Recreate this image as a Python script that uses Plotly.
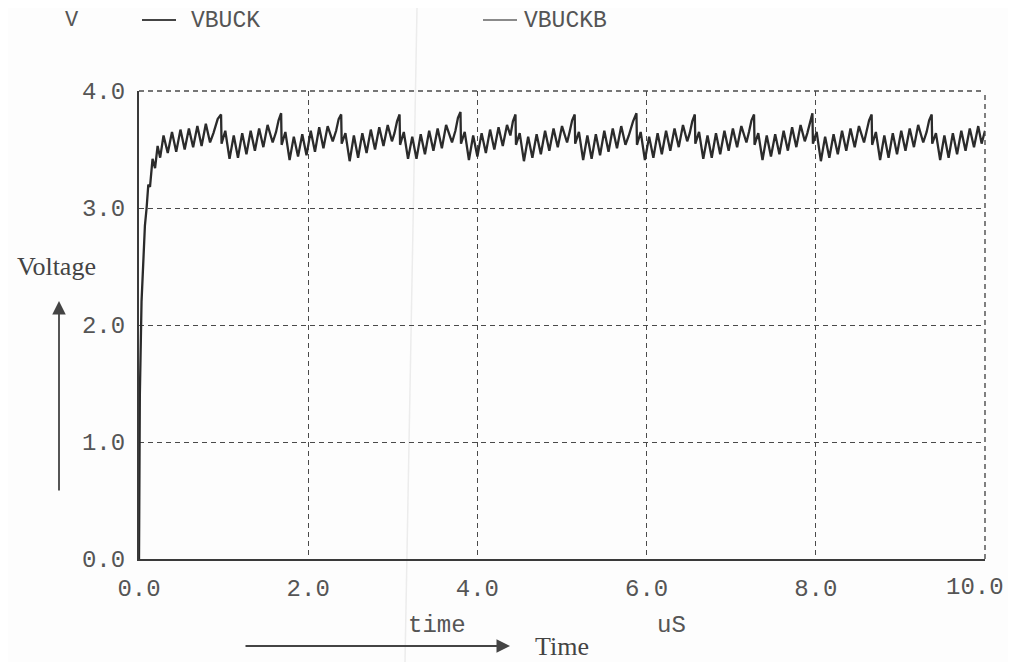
import plotly.graph_objects as go

# ---------------- data ----------------
series_names = ["VBUCK", "VBUCKB"]
y_unit_label = "V"
x_tick_vals = [0, 2, 4, 6, 8, 10]
x_tick_text = ["0.0", "2.0", "4.0", "6.0", "8.0", "10.0"]
y_tick_vals = [0, 1, 2, 3, 4]
y_tick_text = ["0.0", "1.0", "2.0", "3.0", "4.0"]

# time in microseconds
t_us = [
    0.00, 0.01, 0.03, 0.05, 0.07, 0.09, 0.11, 0.13, 0.16, 0.19, 0.22, 0.25, 0.29, 0.34,
    0.39, 0.44, 0.49, 0.54, 0.59, 0.64, 0.69, 0.74, 0.79, 0.84, 0.88, 0.93, 0.97,
    0.976, 1.02, 1.07, 1.12, 1.17, 1.22, 1.27, 1.32, 1.37, 1.42, 1.47, 1.52, 1.58, 1.62, 1.65, 1.68,
    1.686, 1.73, 1.78, 1.83, 1.88, 1.93, 1.98, 2.03, 2.08, 2.13, 2.18, 2.23, 2.29, 2.33, 2.36, 2.39,
    2.396, 2.44, 2.49, 2.54, 2.59, 2.64, 2.69, 2.74, 2.79, 2.84, 2.89, 2.94, 2.99, 3.02, 3.05, 3.08,
    3.086, 3.13, 3.18, 3.23, 3.28, 3.33, 3.38, 3.43, 3.48, 3.53, 3.58, 3.63, 3.70, 3.74, 3.77, 3.80,
    3.806, 3.85, 3.90, 3.95, 4.00, 4.05, 4.10, 4.15, 4.20, 4.25, 4.30, 4.35, 4.39, 4.42, 4.45,
    4.456, 4.50, 4.55, 4.60, 4.65, 4.70, 4.75, 4.80, 4.85, 4.90, 4.95, 5.00, 5.06, 5.09, 5.12, 5.15,
    5.156, 5.20, 5.25, 5.30, 5.35, 5.40, 5.45, 5.50, 5.55, 5.60, 5.65, 5.70, 5.75, 5.79, 5.84, 5.88,
    5.886, 5.93, 5.98, 6.03, 6.08, 6.13, 6.18, 6.23, 6.28, 6.33, 6.38, 6.43, 6.48, 6.51, 6.54, 6.57,
    6.576, 6.62, 6.67, 6.72, 6.77, 6.82, 6.87, 6.92, 6.97, 7.02, 7.07, 7.12, 7.18, 7.21, 7.24, 7.27,
    7.276, 7.32, 7.37, 7.42, 7.47, 7.52, 7.57, 7.62, 7.67, 7.72, 7.77, 7.82, 7.87, 7.90, 7.93, 7.96,
    7.966, 8.01, 8.06, 8.11, 8.16, 8.21, 8.26, 8.31, 8.36, 8.41, 8.46, 8.51, 8.57, 8.60, 8.63, 8.66,
    8.666, 8.71, 8.76, 8.81, 8.86, 8.91, 8.96, 9.01, 9.06, 9.11, 9.16, 9.21, 9.27, 9.31, 9.34, 9.37,
    9.376, 9.42, 9.47, 9.52, 9.57, 9.62, 9.67, 9.72, 9.77, 9.82, 9.87, 9.92, 9.96, 10.00,
]

# VBUCK voltage
v_buck = [
    0.00, 1.40, 2.20, 2.60, 2.85, 3.00, 3.20, 3.18, 3.42, 3.34, 3.53, 3.43, 3.62, 3.47,
    3.65, 3.48, 3.67, 3.50, 3.68, 3.52, 3.70, 3.53, 3.72, 3.56, 3.64, 3.76, 3.80,
    3.55, 3.66, 3.42, 3.62, 3.43, 3.64, 3.46, 3.66, 3.49, 3.68, 3.52, 3.71, 3.56, 3.65, 3.75, 3.81,
    3.54, 3.65, 3.41, 3.61, 3.44, 3.63, 3.45, 3.66, 3.48, 3.69, 3.51, 3.70, 3.57, 3.66, 3.76, 3.80,
    3.55, 3.64, 3.40, 3.62, 3.43, 3.64, 3.47, 3.67, 3.50, 3.69, 3.53, 3.71, 3.57, 3.64, 3.74, 3.80,
    3.54, 3.65, 3.42, 3.61, 3.42, 3.63, 3.46, 3.66, 3.49, 3.68, 3.51, 3.71, 3.56, 3.66, 3.77, 3.82,
    3.55, 3.65, 3.41, 3.62, 3.44, 3.64, 3.47, 3.67, 3.50, 3.69, 3.53, 3.71, 3.62, 3.74, 3.80,
    3.54, 3.64, 3.40, 3.61, 3.43, 3.63, 3.46, 3.66, 3.49, 3.68, 3.52, 3.70, 3.56, 3.65, 3.75, 3.80,
    3.55, 3.65, 3.41, 3.62, 3.42, 3.63, 3.45, 3.66, 3.48, 3.68, 3.51, 3.70, 3.54, 3.62, 3.74, 3.81,
    3.54, 3.65, 3.41, 3.61, 3.43, 3.64, 3.46, 3.66, 3.49, 3.68, 3.52, 3.71, 3.57, 3.64, 3.74, 3.80,
    3.55, 3.65, 3.42, 3.62, 3.43, 3.64, 3.46, 3.66, 3.49, 3.68, 3.52, 3.70, 3.56, 3.65, 3.75, 3.80,
    3.54, 3.64, 3.41, 3.62, 3.44, 3.63, 3.46, 3.66, 3.49, 3.69, 3.52, 3.71, 3.57, 3.64, 3.74, 3.81,
    3.55, 3.65, 3.40, 3.61, 3.43, 3.63, 3.46, 3.66, 3.49, 3.68, 3.52, 3.70, 3.56, 3.65, 3.75, 3.80,
    3.54, 3.65, 3.41, 3.62, 3.43, 3.64, 3.46, 3.66, 3.49, 3.68, 3.52, 3.71, 3.56, 3.65, 3.75, 3.80,
    3.55, 3.64, 3.41, 3.62, 3.43, 3.64, 3.46, 3.66, 3.49, 3.68, 3.52, 3.70, 3.55, 3.66,
]

# ---------------- styling ----------------
MONO = "Liberation Mono, Courier New, monospace"
SERIF = "Liberation Serif, Times New Roman, serif"
TXT = "#555555"
GRID = "#4a4a4a"

# the page body has an 8px margin: figure occupies page pixels 8..1016 x 8..662
PAGE_OFF = 8
W, H = 1008, 654
# plot area in page pixels
L, R, T, B = 139, 985, 91, 559


def px(xpix):
    return (xpix - L) / (R - L)


def py(ypix):
    return (B - ypix) / (B - T)


fig = go.Figure()
fig.add_trace(go.Scatter(
    x=t_us, y=v_buck, mode="lines", name=series_names[0],
    line=dict(color="#2b2b2b", width=2.3), showlegend=False,
))

fig.update_layout(
    width=W, height=H,
    margin=dict(l=L - PAGE_OFF, r=(W + PAGE_OFF) - R, t=T - PAGE_OFF, b=(H + PAGE_OFF) - B,
                autoexpand=False),
    paper_bgcolor="#fdfdfd", plot_bgcolor="#fdfdfd",
    showlegend=False,
)
# the last x label sits shifted left of its tick in the reference (page edge), so it
# is placed as an annotation; the others are regular tick labels
fig.update_xaxes(
    range=[0, 10], tickvals=x_tick_vals[:-1], ticktext=x_tick_text[:-1],
    showgrid=True, gridcolor=GRID, gridwidth=1.4, griddash="5px,4px",
    showline=True, linecolor="#3a3a3a", linewidth=2, zeroline=False,
    ticks="", tickfont=dict(family=MONO, size=24, color=TXT), ticklabelstandoff=6,
    automargin=False,
)
fig.update_yaxes(
    range=[0, 4], tickvals=y_tick_vals, ticktext=y_tick_text,
    showgrid=True, gridcolor=GRID, gridwidth=1.4, griddash="5px,4px",
    showline=True, linecolor="#3a3a3a", linewidth=2, zeroline=False,
    ticks="", tickfont=dict(family=MONO, size=24, color=TXT), ticklabelstandoff=7,
    automargin=False,
)

# dashed top / right frame (grid at the range ends)
fig.add_shape(type="line", xref="paper", yref="paper", x0=0, x1=1, y0=1, y1=1,
              line=dict(color=GRID, width=1.4, dash="5px,4px"))
fig.add_shape(type="line", xref="paper", yref="paper", x0=1, x1=1, y0=0, y1=1,
              line=dict(color=GRID, width=1.4, dash="5px,4px"))

# faint scan fold line
fig.add_shape(type="line", xref="paper", yref="paper", x0=px(417), x1=px(405),
              y0=py(8), y1=py(662), line=dict(color="#ececec", width=1.5), layer="below")


def label(xp, yp, text, family, size, color, xanchor="center"):
    fig.add_annotation(x=px(xp), y=py(yp), xref="paper", yref="paper", text=text,
                       showarrow=False, xanchor=xanchor, yanchor="middle",
                       font=dict(family=family, size=size, color=color))


# last x tick label
fig.add_annotation(x=x_tick_vals[-1], y=py(587), xref="x", yref="paper",
                   text=x_tick_text[-1], showarrow=False, xanchor="right", xshift=21,
                   yanchor="middle", font=dict(family=MONO, size=24, color=TXT))

# legend-like header
label(72, 20, y_unit_label, MONO, 22, TXT)
fig.add_shape(type="line", xref="paper", yref="paper", x0=px(142), x1=px(176),
              y0=py(20), y1=py(20), line=dict(color="#444444", width=2))
label(189, 21, series_names[0], MONO, 23, TXT, "left")
fig.add_shape(type="line", xref="paper", yref="paper", x0=px(483), x1=px(517),
              y0=py(20), y1=py(20), line=dict(color="#8a8a8a", width=2))
label(522, 21, series_names[1], MONO, 23, TXT, "left")

# axis captions
label(437, 625, "time", MONO, 24, TXT)
label(671, 625, "uS", MONO, 24, TXT)
label(533, 646, "Time", SERIF, 26, "#444444", "left")
fig.add_annotation(x=px(510), y=py(646), ax=244 - 510, ay=0, xref="paper", yref="paper",
                   axref="pixel", ayref="pixel", text="", showarrow=True,
                   arrowhead=2, arrowsize=1.5, arrowwidth=1.8, arrowcolor="#444444")
label(56, 266, "Voltage", SERIF, 26, "#444444")
fig.add_annotation(x=px(59), y=py(301), ax=0, ay=492 - 301, xref="paper", yref="paper",
                   axref="pixel", ayref="pixel", text="", showarrow=True,
                   arrowhead=2, arrowsize=1.5, arrowwidth=1.8, arrowcolor="#444444")

fig.write_html("out.html")
